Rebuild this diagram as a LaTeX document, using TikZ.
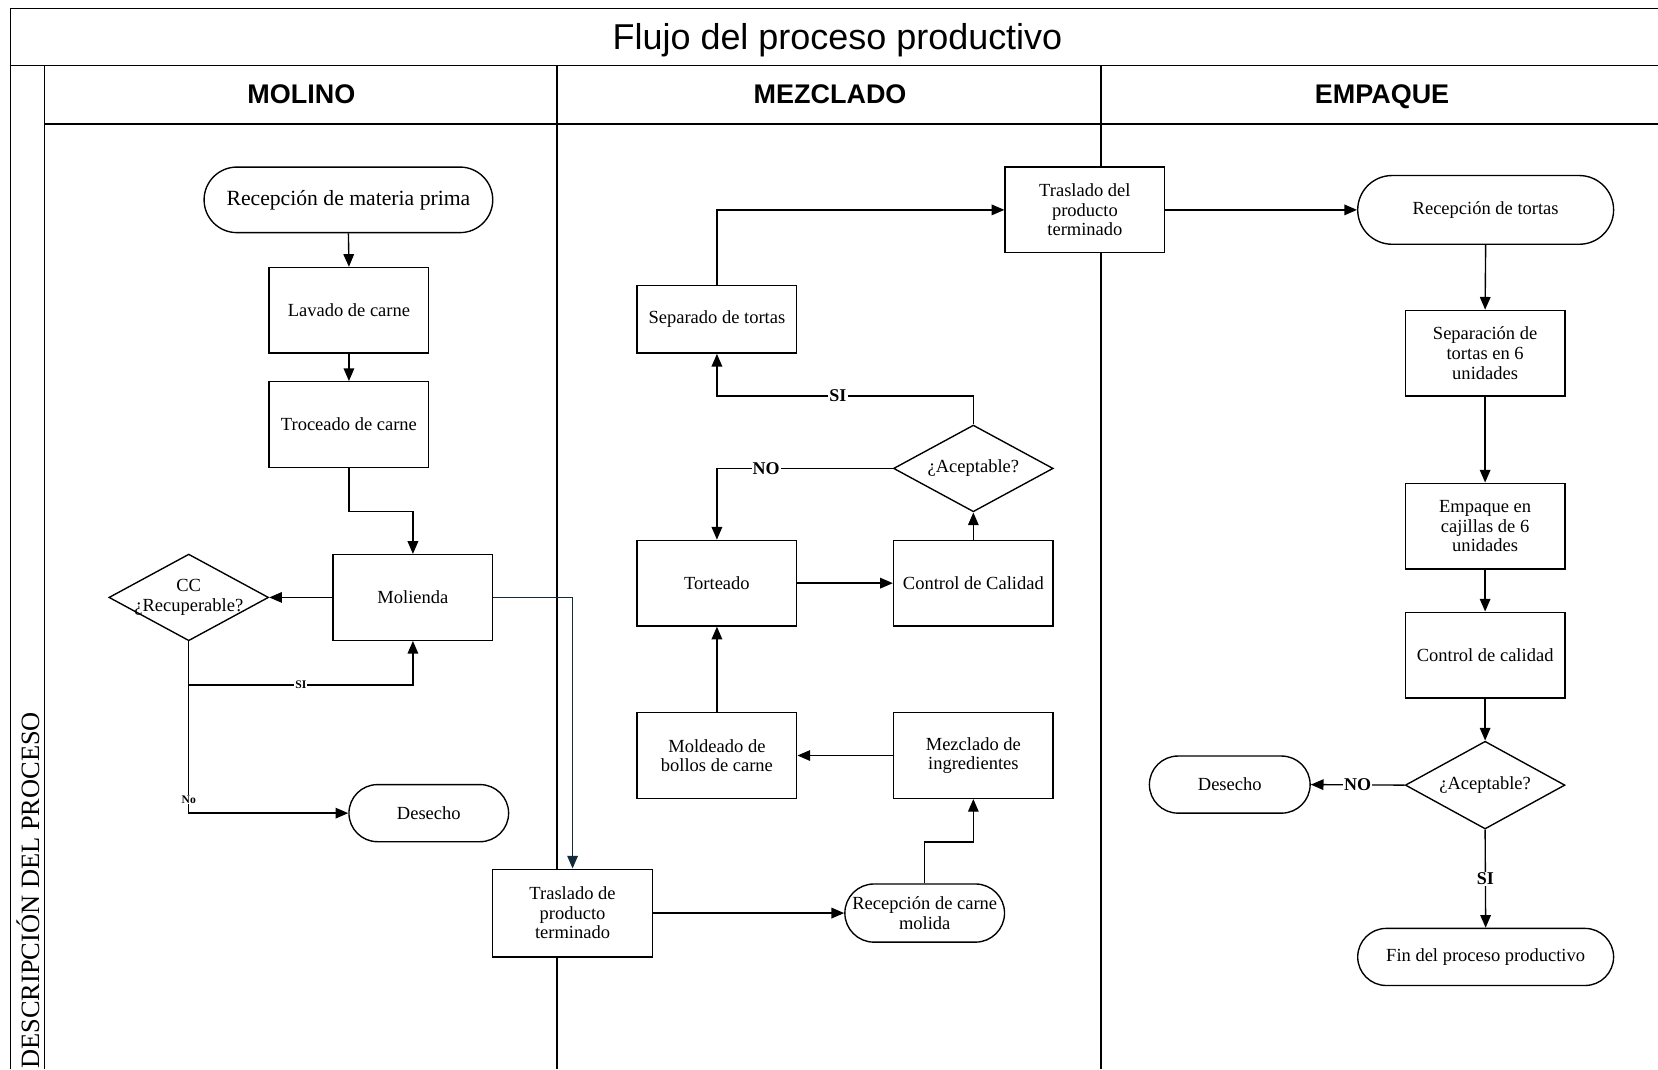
\documentclass[tikz,border=0pt]{standalone}
\usepackage{fontspec}
\setmainfont{Liberation Serif}
\newfontfamily\hdfont{Liberation Sans}
\usetikzlibrary{shapes.geometric,arrows.meta,calc}
\newcommand{\nodefnt}{\fontsize{17.5}{18.5}\selectfont}
\definecolor{navyline}{RGB}{18,42,58}
\begin{document}
\begin{tikzpicture}[x=1pt,y=-1pt,
  frame/.style={line width=1.7pt},
  box/.style={draw, fill=white, line width=1.3pt, rectangle, minimum width=151pt, minimum height=81pt, inner sep=2pt, align=center, font=\nodefnt},
  term/.style={draw, fill=white, line width=1.3pt, rectangle, align=center, inner sep=0pt, font=\nodefnt},
  dia/.style={draw, fill=white, line width=1.3pt, diamond, minimum width=151pt, minimum height=82pt, inner sep=0pt},
  dtxt/.style={align=center, font=\nodefnt, inner sep=0pt},
  hdr/.style={anchor=base, inner sep=0pt, font=\hdfont\bfseries\fontsize{25.5}{27}\selectfont},
  conn/.style={line width=1.3pt, -{Triangle[length=12pt,width=10pt]}},
  lbl/.style={fill=white, inner sep=1pt, font=\bfseries\fontsize{17}{17}\selectfont},
  lblsm/.style={fill=white, inner sep=1pt, font=\bfseries\fontsize{11}{11}\selectfont}
]
\useasboundingbox (0,0) rectangle (1568,1011);

% frame
\draw[frame] (10,1011) -- (10,8) -- (1568,8);
\draw[frame] (10,62) -- (1568,62);
\draw[frame] (42,62) -- (42,1011);
\draw[frame] (42,117) -- (1568,117);
\draw[frame] (527,62) -- (527,1011);
\draw[frame] (1041,62) -- (1041,1011);

\node[anchor=base, inner sep=0pt, font=\hdfont\fontsize{34}{36}\selectfont] (title) at (792,47) {Flujo del proceso productivo};
\node[hdr] (h1) at (285,98) {MOLINO};
\node[hdr] (h2) at (785,98) {MEZCLADO};
\node[hdr] (h3) at (1307,98) {EMPAQUE};
\node[rotate=90, anchor=west, inner sep=0pt, font=\fontsize{25}{25}\selectfont] (desc) at (26.5,1011) {DESCRIPCIÓN DEL PROCESO};

% MOLINO
\node[term, minimum width=273pt, minimum height=62pt, rounded corners=31pt, font=\fontsize{20.5}{22}\selectfont] (rec1) at (329.5,189) {Recepción de materia prima};
\node[box] (lav) at (330,293.5) {Lavado de carne};
\node[box] (troc) at (330,401.5) {Troceado de carne};
\node[box] (mol) at (390.5,565) {Molienda};
\node[dia] (d1) at (178.5,565) {};
\node[dtxt] (d1t) at (178.5,565) {CC\\¿Recuperable?};
\node[term, minimum width=151pt, minimum height=54pt, rounded corners=27pt] (des1) at (405.5,769) {Desecho};
\node[box, minimum height=83pt] (tr1) at (541.5,863.5) {Traslado de\\producto\\terminado};

% MEZCLADO
\node[term, minimum width=151pt, minimum height=55pt, rounded corners=27.5pt] (rcm) at (874.5,863.5) {Recepción de carne\\molida};
\node[box] (mez) at (920.5,714.5) {Mezclado de\\ingredientes};
\node[box] (mold) at (678,714.5) {Moldeado de\\bollos de carne};
\node[box] (tort) at (678,551.5) {Torteado};
\node[box] (cc) at (920.5,551.5) {Control de Calidad};
\node[dia] (d2) at (920.5,443) {};
\node[dtxt] (d2t) at (920.5,443) {¿Aceptable?};
\node[box, minimum height=64pt] (sep) at (678,302) {Separado de tortas};
\node[box] (tr2) at (1026,198.5) {Traslado del\\producto\\terminado};

% EMPAQUE
\node[term, minimum width=242pt, minimum height=65pt, rounded corners=32.5pt] (rt) at (1405,198.5) {Recepción de tortas};
\node[box] (s6) at (1404.5,334) {Separación de\\tortas en 6\\unidades};
\node[box] (emp) at (1404.5,497.5) {Empaque en\\cajillas de 6\\unidades};
\node[box] (cc2) at (1404.5,619.5) {Control de calidad};
\node[dia, minimum height=83pt] (d3) at (1404.5,742.5) {};
\node[dtxt] (d3t) at (1404.5,742.5) {¿Aceptable?};
\node[term, minimum width=152pt, minimum height=54pt, rounded corners=27pt] (des2) at (1163,742) {Desecho};
\node[term, minimum width=242pt, minimum height=54pt, rounded corners=27pt] (fin) at (1405,905) {Fin del proceso productivo};

% connectors MOLINO
\draw[conn] (rec1.south) -- (lav.north);
\draw[conn] (lav.south) -- (troc.north);
\draw[conn] (troc.south) -- ++(0,41) -| (mol.north);
\draw[conn] (mol.west) -- (d1.east);
\draw[conn] (d1.south) -- ++(0,41) coordinate (c1) -| node[lblsm, pos=0.25]{SI} (mol.south);
\draw[conn] (c1) |- node[lblsm, pos=0.447]{No} (des1.west);
\draw[conn, color=navyline] (mol.east) -| (tr1.north);

% connectors MEZCLADO
\draw[conn] (tr1.east) -- (rcm.west);
\draw[conn] (rcm.north) -- ++(0,-39) -| (mez.south);
\draw[conn] (mez.west) -- (mold.east);
\draw[conn] (mold.north) -- (tort.south);
\draw[conn] (tort.east) -- (cc.west);
\draw[conn] (cc.north) -- (d2.south);
\draw[conn] (d2.west) -| node[lbl, pos=0.36]{NO} (tort.north);
\draw[conn] (d2.north) -- ++(0,-27) -| node[lbl, pos=0.264]{SI} (sep.south);
\draw[conn] (sep.north) |- (tr2.west);

% connectors EMPAQUE
\draw[conn] (tr2.east) -- (rt.west);
\draw[conn] (rt.south) -- (s6.north);
\draw[conn] (s6.south) -- (emp.north);
\draw[conn] (emp.south) -- (cc2.north);
\draw[conn] (cc2.south) -- (d3.north);
\draw[conn] (d3.west) -- node[lbl]{NO} (des2.east);
\draw[conn] (d3.south) -- node[lbl]{SI} (fin.north);
\end{tikzpicture}
\end{document}
